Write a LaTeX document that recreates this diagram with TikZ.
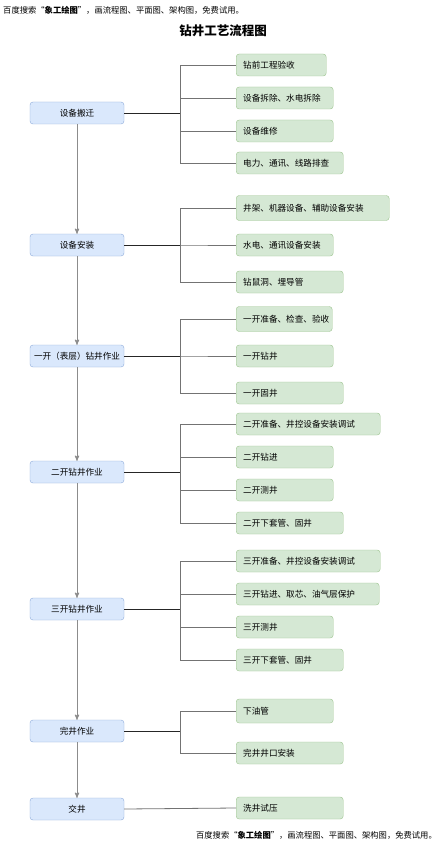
\documentclass[tikz,border=0pt]{standalone}
\usepackage{fontspec}
\setmainfont{Noto Sans CJK SC}
\usetikzlibrary{positioning}
\usetikzlibrary{arrows}
\definecolor{stagefill}{HTML}{DAE8FC}
\definecolor{stageline}{HTML}{8EAADB}
\definecolor{taskfill}{HTML}{D5E8D4}
\definecolor{taskline}{HTML}{9DC48F}
\tikzset{>=stealth'}
\tikzset{stage/.style={draw=stageline, fill=stagefill, rounded corners=3pt, minimum width=94pt, minimum height=22pt, inner xsep=2pt, font=\fontsize{8.6}{10}\selectfont}}
\tikzset{task/.style={draw=taskline, fill=taskfill, rounded corners=3pt, anchor=west, minimum height=22pt, inner xsep=7pt, align=left, font=\fontsize{8.6}{10}\selectfont}}
\tikzset{flow/.style={->, draw=black!45, line width=0.9pt}}
\tikzset{branch/.style={draw=black!55, line width=0.8pt}}
\tikzset{trunk/.style={draw=black!85, line width=0.9pt}}
\tikzset{note/.style={inner sep=0pt, font=\fontsize{8.3}{10}\selectfont}}

\begin{document}
\begin{tikzpicture}[x=1pt, y=-1pt]
\fill[white] (0,0) rectangle (445,853);
\useasboundingbox (0,0) rectangle (445,853);

\node[note, anchor=west] (top) at (3,10) {百度搜索“\textbf{象工绘图}”，画流程图、平面图、架构图，免费试用。};
\node[font=\bfseries\fontsize{12.5}{14}\selectfont] (title) at (223,31) {钻井工艺流程图};

% stages
\node[stage] (banqian) at (77,113) {设备搬迁};
\node[stage] (anzhuang) at (77,245) {设备安装};
\node[stage] (yikai) at (77,356) {一开（表层）钻井作业};
\node[stage] (erkai) at (77,472) {二开钻井作业};
\node[stage] (sankai) at (77,609) {三开钻井作业};
\node[stage] (wanjing) at (77,731) {完井作业};
\node[stage] (jiaojing) at (77,809) {交井};

% tasks
\node[task, text width=76pt] (b1) at (236,65) {钻前工程验收};
\node[task, text width=83pt] (b2) at (236,98) {设备拆除、水电拆除};
\node[task, text width=83pt] (b3) at (236,131) {设备维修};
\node[task, text width=93pt] (b4) at (236,163) {电力、通讯、线路排查};

\node[task, text width=139pt, minimum height=25pt] (a1) at (236,208) {井架、机器设备、辅助设备安装};
\node[task, text width=83pt] (a2) at (236,245) {水电、通讯设备安装};
\node[task, text width=93pt] (a3) at (236,282) {钻鼠洞、埋导管};

\node[task, text width=82pt, minimum height=25pt] (y1) at (236,319) {一开准备、检查、验收};
\node[task, text width=83pt] (y2) at (236,356) {一开钻井};
\node[task, text width=93pt] (y3) at (236,393) {一开固井};

\node[task, text width=130pt] (e1) at (236,424) {二开准备、井控设备安装调试};
\node[task, text width=83pt] (e2) at (236,457) {二开钻进};
\node[task, text width=83pt] (e3) at (236,490) {二开测井};
\node[task, text width=93pt] (e4) at (236,523) {二开下套管、固井};

\node[task, text width=130pt] (s1) at (236,561) {三开准备、井控设备安装调试};
\node[task, text width=129pt] (s2) at (236,594) {三开钻进、取芯、油气层保护};
\node[task, text width=83pt] (s3) at (236,627) {三开测井};
\node[task, text width=93pt] (s4) at (236,660) {三开下套管、固井};

\node[task, text width=83pt, minimum height=24pt] (w1) at (236,711) {下油管};
\node[task, text width=93pt] (w2) at (236,753) {完井井口安装};

\node[task, text width=93pt] (j1) at (236,808) {洗井试压};

\node[note, anchor=east] (bottom) at (437,835) {百度搜索“\textbf{象工绘图}”，画流程图、平面图、架构图，免费试用。};

% main flow
\draw[flow] (banqian) -- (anzhuang);
\draw[flow] (anzhuang) -- (yikai);
\draw[flow] (yikai) -- (erkai);
\draw[flow] (erkai) -- (sankai);
\draw[flow] (sankai) -- (wanjing);
\draw[flow] (wanjing) -- (jiaojing);

% branches
\foreach \t in {b1,b2,b3,b4} \draw[branch] (banqian.east) -- +(56,0) |- (\t.west);
\foreach \t in {a1,a2,a3} \draw[branch] (anzhuang.east) -- +(56,0) |- (\t.west);
\foreach \t in {y1,y2,y3} \draw[branch] (yikai.east) -- +(56,0) |- (\t.west);
\foreach \t in {e1,e2,e3,e4} \draw[branch] (erkai.east) -- +(56,0) |- (\t.west);
\foreach \t in {s1,s2,s3,s4} \draw[branch] (sankai.east) -- +(56,0) |- (\t.west);
\foreach \t in {w1,w2} \draw[branch] (wanjing.east) -- +(56,0) |- (\t.west);
\draw[branch] (jiaojing.east) -- (j1.west);

\foreach \m in {banqian,anzhuang,yikai,erkai,sankai,wanjing}
  \draw[trunk] (\m.east) -- +(56,0);
\end{tikzpicture}
\end{document}
